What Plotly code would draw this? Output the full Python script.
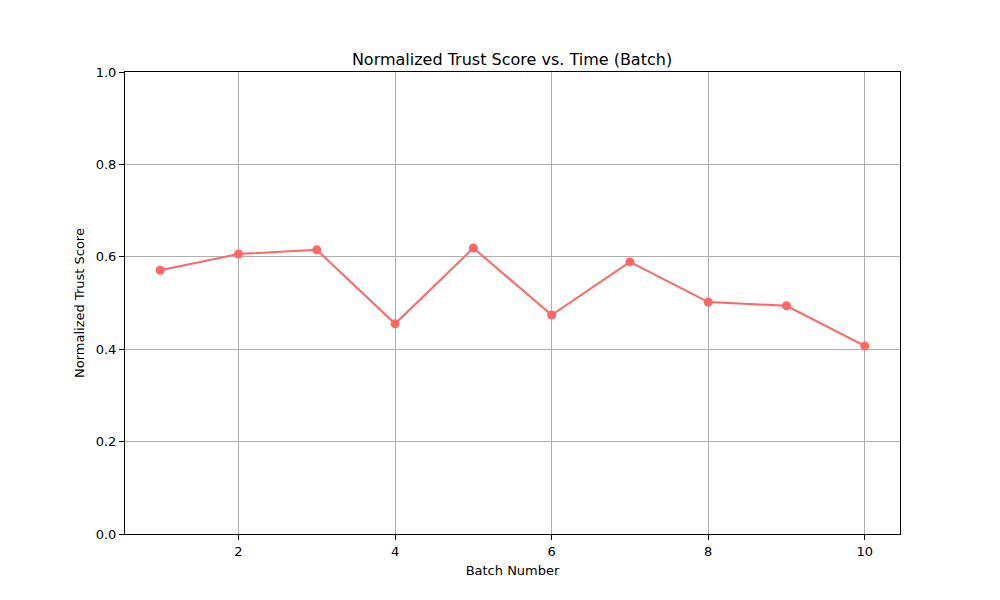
import plotly.graph_objects as go

# data
batches = [1, 2, 3, 4, 5, 6, 7, 8, 9, 10]
trust_scores = [0.571, 0.606, 0.615, 0.455, 0.619, 0.474, 0.589, 0.502, 0.494, 0.407]

line_color = "#ff6666"

fig = go.Figure()
fig.add_trace(go.Scatter(
    x=batches,
    y=trust_scores,
    mode="lines+markers",
    line=dict(color=line_color, width=2),
    marker=dict(color=line_color, size=9),
    showlegend=False,
))

axis_common = dict(
    showline=True, linecolor="black", linewidth=1, mirror=True,
    ticks="outside", ticklen=5, tickcolor="black",
    showgrid=True, gridcolor="#b0b0b0", gridwidth=1,
    zeroline=False,
    tickfont=dict(size=13, color="black"),
)

fig.update_xaxes(
    range=[0.55, 10.45], tickvals=[2, 4, 6, 8, 10],
    title=dict(text="Batch Number", font=dict(size=13, color="black"), standoff=8),
    **axis_common,
)
fig.update_yaxes(
    range=[0, 1.0], tickvals=[0, 0.2, 0.4, 0.6, 0.8, 1.0], tickformat=".1f",
    title=dict(text="Normalized Trust Score", font=dict(size=13, color="black"), standoff=8),
    **axis_common,
)

# the page body adds an 8px offset, so margins are shifted to compensate
fig.update_layout(
    width=1000, height=600,
    margin=dict(l=117, r=108, t=64, b=74),
    paper_bgcolor="white", plot_bgcolor="white",
    font=dict(family="DejaVu Sans", color="black"),
    title=dict(text="Normalized Trust Score vs. Time (Batch)", x=0.504, xanchor="center",
               y=0.905, yanchor="bottom", font=dict(size=16, color="black")),
)

fig.write_html("out.html")
